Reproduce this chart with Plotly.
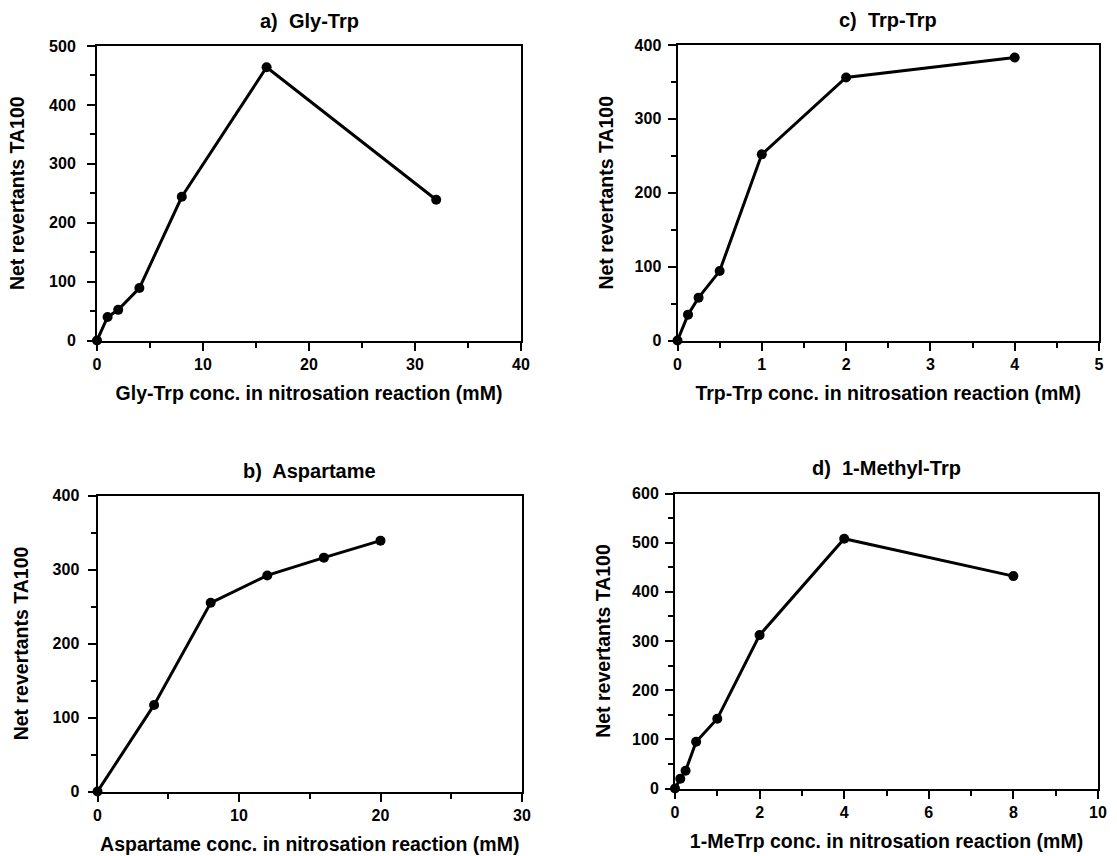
import plotly.graph_objects as go

# Panel a) Gly-Trp
gly_x = [0, 1, 2, 4, 8, 16, 32]
gly_y = [0, 40, 52, 89, 244, 464, 239]
# Panel b) Aspartame
asp_x = [0, 4, 8, 12, 16, 20]
asp_y = [0, 117, 255, 292, 316, 339]
# Panel c) Trp-Trp
trp_x = [0, 0.125, 0.25, 0.5, 1, 2, 4]
trp_y = [0, 35, 58, 94, 252, 356, 383]
# Panel d) 1-Methyl-Trp
met_x = [0, 0.125, 0.25, 0.5, 1, 2, 4, 8]
met_y = [0, 20, 36, 95, 142, 312, 508, 432]

titles = ["a)\u00a0 Gly-Trp", "b)\u00a0 Aspartame", "c)\u00a0 Trp-Trp", "d)\u00a0 1-Methyl-Trp"]
xtitles = ["Gly-Trp conc. in nitrosation reaction (mM)",
           "Aspartame conc. in nitrosation reaction (mM)",
           "Trp-Trp conc. in nitrosation reaction (mM)",
           "1-MeTrp conc. in nitrosation reaction (mM)"]
ytitle = "Net revertants TA100"

W, H = 1117, 856
def dx(a, b):
    return [a / W, b / W]
def dy(top, bottom):
    return [1 - bottom / H, 1 - top / H]

panels = [
    dict(x=gly_x, y=gly_y, xr=[0, 40], xd=10, xm=5, yr=[0, 500], yd=100, ym=50,
         dom_x=dx(97, 521), dom_y=dy(46, 340.5), ylab=8, ytit=19),
    dict(x=asp_x, y=asp_y, xr=[0, 30], xd=10, xm=5, yr=[0, 400], yd=100, ym=50,
         dom_x=dx(97.5, 522), dom_y=dy(495.5, 791.5), ylab=5, ytit=19),
    dict(x=trp_x, y=trp_y, xr=[0, 5], xd=1, xm=0.5, yr=[0, 400], yd=100, ym=50,
         dom_x=dx(677.5, 1099), dom_y=dy(45, 340.5), ylab=3, ytit=16),
    dict(x=met_x, y=met_y, xr=[0, 10], xd=2, xm=1, yr=[0, 600], yd=100, ym=50,
         dom_x=dx(675, 1098), dom_y=dy(493.5, 788.5), ylab=3, ytit=16),
]

font_family = "Liberation Sans, Arial, Helvetica, sans-serif"
fig = go.Figure()
layout = dict(
    width=W, height=H,
    paper_bgcolor="white", plot_bgcolor="white",
    margin=dict(l=0, r=0, t=0, b=0),
    showlegend=False,
    font=dict(family=font_family, color="black", size=16),
    annotations=[],
)

for i, p in enumerate(panels):
    n = "" if i == 0 else str(i + 1)
    fig.add_trace(go.Scatter(
        x=p["x"], y=p["y"], mode="lines+markers",
        line=dict(color="black", width=3),
        marker=dict(color="black", size=10),
        cliponaxis=False,
        xaxis="x" + n, yaxis="y" + n,
    ))
    axis_common = dict(
        showgrid=False, zeroline=False, showline=True, linecolor="black",
        linewidth=2, mirror=True, ticks="outside", ticklen=8, tickwidth=2,
        tickcolor="black", automargin=False,
        tickfont=dict(family=font_family, size=16, color="black", weight="bold"),
    )
    layout["xaxis" + n] = dict(
        axis_common, domain=p["dom_x"], range=p["xr"], dtick=p["xd"], tick0=0,
        anchor="y" + n, ticklabelstandoff=0,
        minor=dict(dtick=p["xm"], tick0=0, ticks="outside", ticklen=5,
                   tickwidth=2, tickcolor="black"),
        title=dict(text=xtitles[i], standoff=15,
                   font=dict(family=font_family, size=19.5, weight="bold")),
    )
    layout["yaxis" + n] = dict(
        axis_common, domain=p["dom_y"], range=p["yr"], dtick=p["yd"], tick0=0,
        anchor="x" + n, ticklabelstandoff=p["ylab"],
        minor=dict(dtick=p["ym"], tick0=0, ticks="outside", ticklen=5,
                   tickwidth=2, tickcolor="black"),
        title=dict(text=ytitle, standoff=p["ytit"],
                   font=dict(family=font_family, size=19.5, weight="bold")),
    )
    layout["annotations"].append(dict(
        text=titles[i], xref="paper", yref="paper",
        x=(p["dom_x"][0] + p["dom_x"][1]) / 2, y=p["dom_y"][1],
        xanchor="center", yanchor="middle", yshift=25, showarrow=False,
        font=dict(family=font_family, size=20, weight="bold", color="black"),
    ))

fig.update_layout(**layout)
fig.write_html(
    "out.html",
    config={"displayModeBar": False},
    post_script="document.body.style.margin='0px';document.body.style.overflow='hidden';",
)
